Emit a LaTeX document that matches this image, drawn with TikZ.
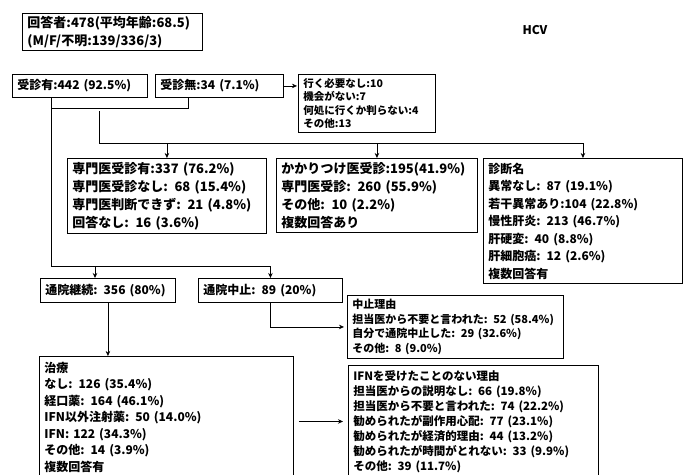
\documentclass[tikz,border=0pt]{standalone}
\usepackage{fontspec}
\setmainfont{Noto Sans CJK JP}
\usetikzlibrary{arrows.meta}
\begin{document}
\begin{tikzpicture}[x=1pt,y=-1pt,
  box/.style={draw, line width=0.9pt, anchor=north west, inner xsep=5pt, inner ysep=2pt, align=left},
  large/.style={font=\fontsize{13}{18}\selectfont\bfseries},
  big/.style={font=\fontsize{12}{17.5}\selectfont\bfseries},
  treatf/.style={font=\fontsize{12}{16.5}\selectfont\bfseries},
  mid/.style={font=\fontsize{11}{14.5}\selectfont\bfseries},
  ifnf/.style={font=\fontsize{11.5}{15}\selectfont\bfseries},
  small/.style={font=\fontsize{10.5}{13.5}\selectfont\bfseries},
  conn/.style={line width=0.8pt},
  arr/.style={conn, -{Stealth[length=5pt,width=4.5pt]}}]
\useasboundingbox (0,0) rectangle (688,474);

\node[box, large, text width=170pt, minimum height=37pt] (resp) at (22,13) {回答者:478(平均年齢:68.5)\\(M/F/不明:139/336/3)};
\node[font=\fontsize{12}{14}\selectfont\bfseries] (hcv) at (535,30) {HCV};

\node[box, big, text width=125pt, minimum height=23pt] (yes) at (12,74) {受診有:442 (92.5\%)};
\node[box, big, text width=118pt, minimum height=23pt] (no) at (155,74) {受診無:34 (7.1\%)};
\node[box, small, text width=127pt, minimum height=58pt] (reasons) at (298,74) {行く必要なし:10\\機会がない:7\\何処に行くか判らない:4\\その他:13};

\node[box, large, text width=189pt, minimum height=75pt] (spec) at (67,158) {専門医受診有:337 (76.2\%)\\専門医受診なし: 68 (15.4\%)\\専門医判断できず: 21 (4.8\%)\\回答なし: 16 (3.6\%)};
\node[box, large, text width=191pt, minimum height=74pt] (kakari) at (276,158) {かかりつけ医受診:195(41.9\%)\\専門医受診: 260 (55.9\%)\\その他: 10 (2.2\%)\\複数回答あり};
\node[box, big, text width=189pt, minimum height=125pt] (diag) at (483,158) {診断名\\異常なし: 87 (19.1\%)\\若干異常あり:104 (22.8\%)\\慢性肝炎: 213 (46.7\%)\\肝硬変: 40 (8.8\%)\\肝細胞癌: 12 (2.6\%)\\複数回答有};

\node[box, big, text width=125pt, minimum height=24pt] (cont) at (40,278) {通院継続: 356 (80\%)};
\node[box, big, text width=134pt, minimum height=24pt] (stop) at (198,278) {通院中止: 89 (20\%)};
\node[box, mid, text width=206pt, minimum height=63pt] (stopreason) at (347,295) {中止理由\\担当医から不要と言われた: 52 (58.4\%)\\自分で通院中止した: 29 (32.6\%)\\その他: 8 (9.0\%)};

\node[box, treatf, text width=244pt, minimum height=121pt] (treat) at (39,356) {治療\\なし: 126 (35.4\%)\\経口薬: 164 (46.1\%)\\IFN以外注射薬: 50 (14.0\%)\\IFN: 122 (34.3\%)\\その他: 14 (3.9\%)\\複数回答有};
\node[box, ifnf, text width=240pt, minimum height=112pt] (ifn) at (348,365) {IFNを受けたことのない理由\\担当医からの説明なし: 66 (19.8\%)\\担当医から不要と言われた: 74 (22.2\%)\\勧められたが副作用心配: 77 (23.1\%)\\勧められたが経済的理由: 44 (13.2\%)\\勧められたが時間がとれない: 33 (9.9\%)\\その他: 39 (11.7\%)};

% connectors
\draw[arr, shorten >=1pt] (no.east) -- (no.east -| reasons.west);
\draw[conn] ([xshift=39pt]yes.south west) coordinate (ya) -- ++(0,10) -| ([xshift=33pt]no.south west);
\coordinate (ja) at (99,111);
\draw[arr] (ja) |- ([yshift=15pt]diag.north) -- (diag.north);
\draw[arr] ([yshift=15pt]spec.north) -- (spec.north);
\draw[arr] ([yshift=15pt]kakari.north) -- (kakari.north);
\draw[arr] (ya) |- ([yshift=12pt]stop.north) -- (stop.north);
\draw[arr] ([yshift=12pt,xshift=55pt]cont.north west) -- ([xshift=55pt]cont.north west);
\draw[arr] (cont.south) -- (cont.south |- treat.north);
\draw[arr, shorten >=3pt] (stop.south) |- (stopreason.west);
\draw[arr, shorten <=5pt, shorten >=5pt] (treat.east |- ifn.west) -- (ifn.west);
\end{tikzpicture}
\end{document}
